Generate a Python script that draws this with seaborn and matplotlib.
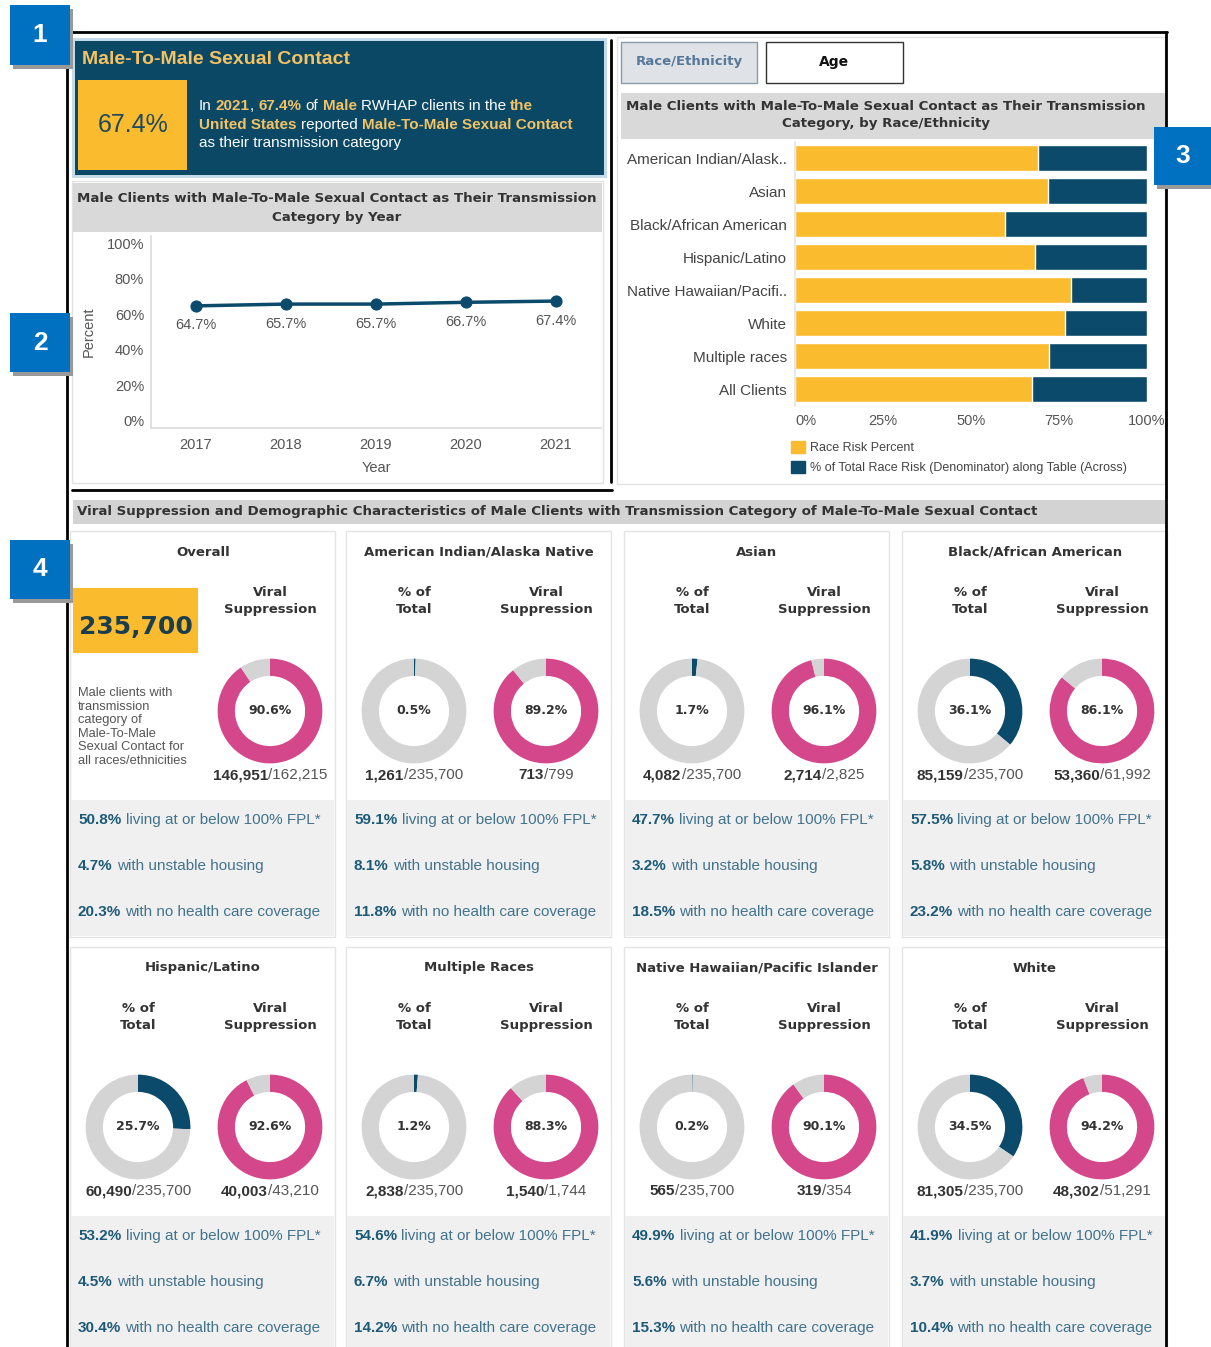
import matplotlib
matplotlib.use("Agg")
import matplotlib.pyplot as plt
from matplotlib.patches import Rectangle, Patch
import pandas as pd
import seaborn as sns

# ---- data -------------------------------------------------------------
years = [2017, 2018, 2019, 2020, 2021]
pct_by_year = [64.7, 65.7, 65.7, 66.7, 67.4]

race_labels = ["American Indian/Alask..", "Asian", "Black/African American", "Hispanic/Latino",
               "Native Hawaiian/Pacifi..", "White", "Multiple races", "All Clients"]
race_risk_pct = [69.0, 71.9, 59.7, 68.2, 78.4, 76.7, 72.2, 67.4]

card_names = ["Overall", "American Indian/Alaska Native", "Asian", "Black/African American",
              "Hispanic/Latino", "Multiple Races", "Native Hawaiian/Pacific Islander", "White"]
group_n = [235700, 1261, 4082, 85159, 60490, 2838, 565, 81305]
pct_total = [None, 0.5, 1.7, 36.1, 25.7, 1.2, 0.2, 34.5]
vs_num = [146951, 713, 2714, 53360, 40003, 1540, 319, 48302]
vs_den = [162215, 799, 2825, 61992, 43210, 1744, 354, 51291]
vs_pct = [90.6, 89.2, 96.1, 86.1, 92.6, 88.3, 90.1, 94.2]
fpl_pct = [50.8, 59.1, 47.7, 57.5, 53.2, 54.6, 49.9, 41.9]
housing_pct = [4.7, 8.1, 3.2, 5.8, 4.5, 6.7, 5.6, 3.7]
no_coverage_pct = [20.3, 11.8, 18.5, 23.2, 30.4, 14.2, 15.3, 10.4]
total_clients = 235700
headline_year = 2021
headline_pct = 67.4

# ---- style ------------------------------------------------------------
DARK = "#0b4a6b"
YELLOW = "#fbbb2f"
PINK = "#d5478b"
LGRAY = "#d4d4d4"
GOLD = "#f4c263"
TXT = "#333333"
SOFT = "#555555"
TEAL_B = "#1d5a78"
TEAL = "#42738d"
HEAD = "DejaVu Sans"   # wide bold face for the dashboard headings

sns.set_theme(style="white")
plt.rcParams["font.family"] = ["Liberation Sans", "DejaVu Sans"]

W, H = 1211, 1347
fig = plt.figure(figsize=(W / 100, H / 100), dpi=100)
fig.patch.set_facecolor("white")
rend = fig.canvas.get_renderer()

bg = fig.add_axes([0, 0, 1, 1])
bg.set_xlim(0, W)
bg.set_ylim(H, 0)
bg.axis("off")


def rect(x0, y0, x1, y1, fc="none", ec="none", lw=1, z=1):
    bg.add_patch(Rectangle((x0, y0), x1 - x0, y1 - y0, facecolor=fc, edgecolor=ec, linewidth=lw, zorder=z))


def text_w(s, size, weight):
    t = bg.text(0, 0, s, fontsize=size, fontweight=weight)
    w = t.get_window_extent(renderer=rend).width
    t.remove()
    return w


def rich(x, y, parts, size, ha="left"):
    texts, cur = [], x
    for s, weight, color in parts:
        sp = text_w("a a", size, weight) - text_w("aa", size, weight)
        core = s.strip(" ")
        cur += (len(s) - len(s.lstrip(" "))) * sp
        t = bg.text(cur, y, core, fontsize=size, fontweight=weight, color=color, va="center", ha="left", zorder=5)
        cur += t.get_window_extent(renderer=rend).width
        cur += (len(s) - len(s.rstrip(" "))) * sp
        texts.append(t)
    if ha == "center":
        shift = (cur - x) / 2
        for t in texts:
            t.set_x(t.get_position()[0] - shift)


def axes_px(x0, y0, x1, y1):
    return fig.add_axes([x0 / W, 1 - y1 / H, (x1 - x0) / W, (y1 - y0) / H])


def donut(cx, cy, value, color):
    ax = axes_px(cx - 55, cy - 55, cx + 55, cy + 55)
    ax.pie([value, 100 - value], colors=[color, LGRAY], startangle=90, counterclock=False,
           radius=1, wedgeprops=dict(width=0.33, edgecolor="none"))
    ax.set_xlim(-1.05, 1.05)
    ax.set_ylim(-1.05, 1.05)
    ax.text(0, 0, f"{value:.1f}%", ha="center", va="center", fontsize=9, fontweight="bold",
            color=TXT, family=HEAD)


# ---- outer frame ------------------------------------------------------
bg.plot([67, 1167], [32, 32], color="black", lw=2, zorder=6)
bg.plot([67, 67], [32, H], color="black", lw=2, zorder=6)
bg.plot([1166, 1166], [32, H], color="black", lw=2, zorder=6)
bg.plot([611, 611], [40, 482], color="black", lw=2, zorder=6)
bg.plot([72, 612], [490, 490], color="black", lw=2, zorder=6)

# ---- panel 1 ----------------------------------------------------------
rect(72, 38, 607, 178, fc="#c4dcea", z=1)
rect(75, 41, 604, 175, fc="#0a4866", z=2)
bg.text(82, 59, "Male-To-Male Sexual Contact", fontsize=14, fontweight="bold", color=GOLD, va="center", zorder=5)
rect(78, 80, 187, 170, fc=YELLOW, z=3)
bg.text(133, 125, f"{headline_pct}%", fontsize=18, color="#1d4a5c", ha="center", va="center", zorder=5)
rich(199, 106, [("In ", "normal", "white"), (str(headline_year), "bold", GOLD), (", ", "normal", "white"),
                (f"{headline_pct}%", "bold", GOLD), (" of ", "normal", "white"), ("Male", "bold", GOLD),
                (" RWHAP clients in the ", "normal", "white"), ("the", "bold", GOLD)], 11)
rich(199, 125, [("United States", "bold", GOLD), (" reported ", "normal", "white"),
                ("Male-To-Male Sexual Contact", "bold", GOLD)], 11)
rich(199, 143, [("as their transmission category", "normal", "white")], 11)

# ---- panel 2 : line chart ---------------------------------------------
rect(72, 181, 603, 483, ec="#e2e2e2", z=1)
rect(73, 183, 602, 232, fc="#d9d9d9", z=2)
bg.text(337, 208, "Male Clients with Male-To-Male Sexual Contact as Their Transmission\nCategory by Year",
        fontsize=9.6, fontweight="bold", color=TXT, ha="center", va="center", linespacing=1.5,
        family=HEAD, zorder=5)

ax1 = axes_px(151, 236, 601, 428)
ax1.set_facecolor("none")
sns.lineplot(x=years, y=pct_by_year, marker="o", color=DARK, linewidth=2.5, markersize=8,
             markeredgecolor=DARK, ax=ax1)
for yr, v in zip(years, pct_by_year):
    ax1.annotate(f"{v}%", (yr, v), xytext=(0, -14), textcoords="offset points", ha="center", va="center",
                 fontsize=10.5, color=SOFT)
ax1.set_xlim(2016.5, 2021.5)
ax1.set_ylim(-4, 104)
ax1.set_xticks(years)
ax1.set_yticks([0, 20, 40, 60, 80, 100])
ax1.set_yticklabels([f"{v}%" for v in [0, 20, 40, 60, 80, 100]])
ax1.tick_params(axis="both", labelsize=10.5, labelcolor=SOFT, length=0)
ax1.tick_params(axis="y", pad=5)
ax1.tick_params(axis="x", pad=7)
ax1.set_xlabel("Year", fontsize=10.5, color=SOFT, labelpad=7)
ax1.set_ylabel("Percent", fontsize=10.5, color=SOFT, labelpad=8)
for s in ["top", "right"]:
    ax1.spines[s].set_visible(False)
for s in ["left", "bottom"]:
    ax1.spines[s].set_color("#dddddd")

# ---- panel 3 : stacked bars -------------------------------------------
rect(617, 37, 1165, 484, ec="#e2e2e2", z=1)
rect(621, 42, 757, 83, fc="#dfe3e8", ec="#8a9aaa", z=2)
bg.text(689, 62, "Race/Ethnicity", fontsize=9.5, fontweight="bold", color="#58789a", ha="center",
        va="center", family=HEAD, zorder=5)
rect(766, 42, 903, 83, fc="white", ec="#333333", z=2)
bg.text(834, 62, "Age", fontsize=10, fontweight="bold", color="#111111", ha="center", va="center",
        family=HEAD, zorder=5)
rect(621, 93, 1165, 139, fc="#d9d9d9", z=2)
bg.text(886, 115, "Male Clients with Male-To-Male Sexual Contact as Their Transmission\nCategory, by Race/Ethnicity",
        fontsize=9.6, fontweight="bold", color=TXT, ha="center", va="center", linespacing=1.5,
        family=HEAD, zorder=5)

race_df = pd.DataFrame({"race": race_labels, "risk": race_risk_pct, "total": [100] * len(race_labels)})
ax3 = axes_px(795, 141.5, 1147, 405.5)
ax3.set_facecolor("none")
sns.barplot(data=race_df, y="race", x="total", color=DARK, saturation=1, width=0.76, ax=ax3)
sns.barplot(data=race_df, y="race", x="risk", color=YELLOW, saturation=1, width=0.76, ax=ax3)
ax3.set_xlim(0, 100)
ax3.set_xticks([0, 25, 50, 75, 100])
ax3.set_xticklabels(["0%", "25%", "50%", "75%", "100%"])
ax3.tick_params(axis="x", labelsize=10.5, labelcolor=SOFT, length=0, pad=6)
ax3.tick_params(axis="y", labelsize=11, labelcolor="#444444", length=0, pad=6)
ax3.get_xticklabels()[0].set_horizontalalignment("left")
ax3.set_xlabel("")
ax3.set_ylabel("")
for s in ["top", "right", "bottom"]:
    ax3.spines[s].set_visible(False)
ax3.spines["left"].set_color("#e5e5e5")
ax3.legend(handles=[Patch(color=YELLOW, label="Race Risk Percent"),
                    Patch(color=DARK, label="% of Total Race Risk (Denominator) along Table (Across)")],
           loc="upper left", bbox_to_anchor=(791 / W, 1 - 441 / H), bbox_transform=fig.transFigure,
           frameon=False, fontsize=9, handlelength=1.1, handleheight=1.1, handletextpad=0.4,
           labelspacing=0.55, borderpad=0, borderaxespad=0, labelcolor="#444444")

# ---- panel 4 : cards --------------------------------------------------
rect(73, 500, 1165, 524, fc="#d3d3d3", z=2)
bg.text(77, 512, "Viral Suppression and Demographic Characteristics of Male Clients with Transmission Category of Male-To-Male Sexual Contact",
        fontsize=9.6, fontweight="bold", color=TXT, va="center", family=HEAD, zorder=5)

col_left = [70, 346, 624, 902]
row_top = [531, 947]
card_w = 265
for i, name in enumerate(card_names):
    left = col_left[i % 4]
    top = row_top[i // 4]
    bottom = min(top + 406, H + 5)
    rect(left, top, left + card_w, bottom, fc="white", ec="#e4e4e4", z=2)
    rect(left + 1, top + 269, left + card_w - 1, bottom - 1, fc="#f0f0f0", z=3)
    bg.text(left + 133, top + 21, name, fontsize=9.5, fontweight="bold", color=TXT, ha="center",
            va="center", family=HEAD, zorder=5)

    lx, rx = left + 68, left + 200
    bg.text(rx, top + 70, "Viral\nSuppression", fontsize=9.5, fontweight="bold", color=TXT,
            ha="center", va="center", linespacing=1.4, family=HEAD, zorder=5)
    donut(rx, top + 180, vs_pct[i], PINK)
    rich(rx, top + 244, [(f"{vs_num[i]:,}", "bold", TXT), (f"/{vs_den[i]:,}", "normal", SOFT)], 11, ha="center")

    if pct_total[i] is None:
        rect(left + 3, top + 57, left + 128, top + 122, fc=YELLOW, z=4)
        bg.text(left + 66, top + 96, f"{group_n[i]:,}", fontsize=18, fontweight="bold", color="#1b3e4e",
                ha="center", va="center", family=HEAD, zorder=5)
        bg.text(left + 8, top + 196, "Male clients with\ntransmission\ncategory of\nMale-To-Male\nSexual Contact for\nall races/ethnicities",
                fontsize=9.3, color=SOFT, va="center", linespacing=1.18, zorder=5)
    else:
        bg.text(lx, top + 70, "% of\nTotal", fontsize=9.5, fontweight="bold", color=TXT,
                ha="center", va="center", linespacing=1.4, family=HEAD, zorder=5)
        donut(lx, top + 180, pct_total[i], DARK)
        rich(lx, top + 244, [(f"{group_n[i]:,}", "bold", TXT), (f"/{total_clients:,}", "normal", SOFT)], 11, ha="center")

    sx = left + 8
    rich(sx, top + 289, [(f"{fpl_pct[i]}%", "bold", TEAL_B), (" living at or below 100% FPL*", "normal", TEAL)], 11)
    rich(sx, top + 335, [(f"{housing_pct[i]}%", "bold", TEAL_B), (" with unstable housing", "normal", TEAL)], 11)
    rich(sx, top + 381, [(f"{no_coverage_pct[i]}%", "bold", TEAL_B), (" with no health care coverage", "normal", TEAL)], 11)

# ---- numbered badges --------------------------------------------------
for num, (x0, y0, x1, y1) in zip(["1", "2", "3", "4"],
                                 [(10, 5, 70, 65), (10, 313, 70, 372), (1154, 127, 1211, 185), (10, 540, 70, 599)]):
    rect(x0 + 3, y0 + 4, x1 + 3, y1 + 4, fc="#999999", z=7)
    rect(x0, y0, x1, y1, fc="#0070c0", z=8)
    bg.text((x0 + x1) / 2, (y0 + y1) / 2, num, fontsize=19, fontweight="bold", color="white",
            ha="center", va="center", zorder=9)

fig.savefig("out.png", dpi=100)
